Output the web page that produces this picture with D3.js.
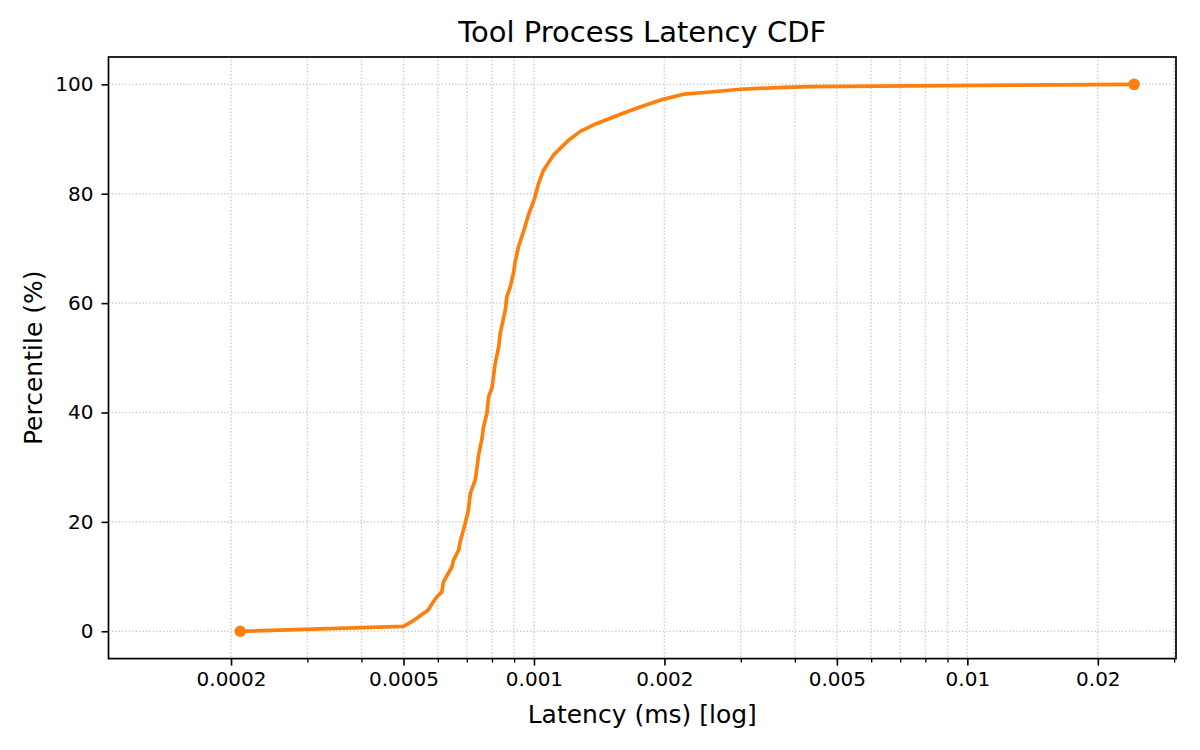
<!DOCTYPE html>
<html>
<head>
<meta charset="utf-8">
<script src="https://cdn.jsdelivr.net/npm/d3@7"></script>
<style>
  body { margin: 0; background: #fff; }
  text { font-family: "DejaVu Sans", sans-serif; fill: #000; }
</style>
</head>
<body>
<script>
// CDF points (latency in ms, percentile in %)
const latencyMs = [
  0.000210, 0.000500, 0.000526, 0.000570, 0.000586, 0.000597, 0.000613, 0.000618,
  0.000647, 0.000652, 0.000670, 0.000676, 0.000694, 0.000706, 0.000713, 0.000732,
  0.000739, 0.000745, 0.000759, 0.000765, 0.000779, 0.000786, 0.000800, 0.000814,
  0.000829, 0.000836, 0.000859, 0.000866, 0.000882, 0.000897, 0.000905, 0.000921,
  0.000946, 0.000972, 0.001002, 0.001025, 0.001052, 0.001110, 0.001202, 0.001279,
  0.001373, 0.001500, 0.001640, 0.001791, 0.001993, 0.002216, 0.002554, 0.002995,
  0.003641, 0.004346, 0.024256
];
const percentile = [
  0, 0.9, 1.9, 3.9, 5.4, 6.3, 7.2, 9.0,
  11.8, 13.0, 14.8, 16.4, 19.7, 22.2, 25.2, 27.7,
  30.0, 32.2, 35.3, 37.4, 39.9, 42.9, 44.5, 49.0,
  52.0, 54.5, 58.8, 61.2, 63.0, 65.5, 67.6, 70.3,
  73.1, 76.2, 79.0, 81.9, 84.3, 87.1, 89.8, 91.4,
  92.6, 93.8, 95.0, 96.1, 97.3, 98.2, 98.6, 99.1,
  99.4, 99.6, 100
];

const xTickValues = [0.0002, 0.0005, 0.001, 0.002, 0.005, 0.01, 0.02];
const xTickLabels = ["0.0002", "0.0005", "0.001", "0.002", "0.005", "0.01", "0.02"];
const yTickValues = [0, 20, 40, 60, 80, 100];

const xLimits = [1.043e-4, 0.0303];
const yLimits = [-5, 105];

let margin = null,
    width = null,
    height = null;

let svg = null;
let x, y = null; // scales

setupCanvasSize();
appendSvg("body");
setupScales();
appendGrid();
appendCurve();
appendAxes();
appendLabels();

function setupCanvasSize() {
  margin = {top: 57, left: 108.5, bottom: 91.4, right: 24};
  width = 1200 - margin.left - margin.right;
  height = 750 - margin.top - margin.bottom;
}

function appendSvg(domElement) {
  const root = d3.select(domElement).append("svg")
    .attr("width", 1200)
    .attr("height", 750);

  root.append("rect").attr("width", 1200).attr("height", 750).attr("fill", "#fff");

  svg = root.append("g")
    .attr("transform", `translate(${margin.left}, ${margin.top})`);
}

function setupScales() {
  x = d3.scaleLog().domain(xLimits).range([0, width]);
  y = d3.scaleLinear().domain(yLimits).range([height, 0]);
}

function gridStyle(sel) {
  sel.attr("stroke", "#d2d2d2")
    .attr("stroke-width", 1.5)
    .attr("stroke-dasharray", "1.5,1.9");
}

function appendGrid() {
  // every 1..9 x 10^k tick gets a dotted vertical line
  const allX = x.ticks().filter(v => v >= xLimits[0] && v <= xLimits[1]);

  svg.append("g")
    .selectAll("line")
    .data(allX)
    .enter().append("line")
      .attr("x1", d => x(d)).attr("x2", d => x(d))
      .attr("y1", 0).attr("y2", height)
      .call(gridStyle);

  svg.append("g")
    .selectAll("line")
    .data(yTickValues)
    .enter().append("line")
      .attr("x1", 0).attr("x2", width)
      .attr("y1", d => y(d)).attr("y2", d => y(d))
      .call(gridStyle);
}

function appendCurve() {
  const points = latencyMs.map((v, i) => ({lat: v, p: percentile[i]}));

  const line = d3.line()
    .x(d => x(d.lat))
    .y(d => y(d.p));

  svg.append("path")
    .datum(points)
    .attr("fill", "none")
    .attr("stroke", "#ff7f0e")
    .attr("stroke-width", 3.7)
    .attr("stroke-linejoin", "round")
    .attr("d", line);

  // markers only on first and last point
  const ends = [points[0], points[points.length - 1]];
  svg.selectAll("circle.end")
    .data(ends)
    .enter().append("circle")
      .attr("class", "end")
      .attr("cx", d => x(d.lat))
      .attr("cy", d => y(d.p))
      .attr("r", 5.8)
      .attr("fill", "#ff7f0e");
}

function appendAxes() {
  const minorX = x.ticks().filter(v =>
    v >= xLimits[0] && v <= xLimits[1] &&
    !xTickValues.some(m => Math.abs(m - v) / m < 1e-6));

  // minor ticks
  svg.append("g")
    .attr("transform", `translate(0, ${height})`)
    .call(d3.axisBottom(x).tickValues(minorX).tickSize(4).tickFormat(""))
    .call(g => g.select(".domain").remove())
    .call(g => g.selectAll("line").attr("stroke", "#000").attr("stroke-width", 1.3));

  // major ticks with labels
  svg.append("g")
    .attr("transform", `translate(0, ${height})`)
    .call(d3.axisBottom(x)
      .tickValues(xTickValues)
      .tickSize(7)
      .tickPadding(6)
      .tickFormat((d, i) => xTickLabels[i]))
    .call(g => g.select(".domain").remove())
    .call(g => g.selectAll("line").attr("stroke", "#000").attr("stroke-width", 1.6))
    .call(g => g.selectAll("text").attr("font-size", "20px").attr("fill", "#000")
      .attr("font-family", "DejaVu Sans"));

  svg.append("g")
    .call(d3.axisLeft(y)
      .tickValues(yTickValues)
      .tickSize(7)
      .tickPadding(8))
    .call(g => g.select(".domain").remove())
    .call(g => g.selectAll("line").attr("stroke", "#000").attr("stroke-width", 1.6))
    .call(g => g.selectAll("text").attr("font-size", "20px").attr("fill", "#000")
      .attr("font-family", "DejaVu Sans"));

  // frame
  svg.append("rect")
    .attr("width", width)
    .attr("height", height)
    .attr("fill", "none")
    .attr("stroke", "#000")
    .attr("stroke-width", 1.7);
}

function appendLabels() {
  svg.append("text")
    .attr("x", width / 2)
    .attr("y", -15)
    .attr("text-anchor", "middle")
    .attr("font-size", "29px")
    .text("Tool Process Latency CDF");

  svg.append("text")
    .attr("x", width / 2)
    .attr("y", height + 64)
    .attr("text-anchor", "middle")
    .attr("font-size", "25px")
    .text("Latency (ms) [log]");

  svg.append("text")
    .attr("transform", "rotate(-90)")
    .attr("x", -height / 2)
    .attr("y", -67)
    .attr("text-anchor", "middle")
    .attr("font-size", "25px")
    .text("Percentile (%)");
}
</script>
</body>
</html>
